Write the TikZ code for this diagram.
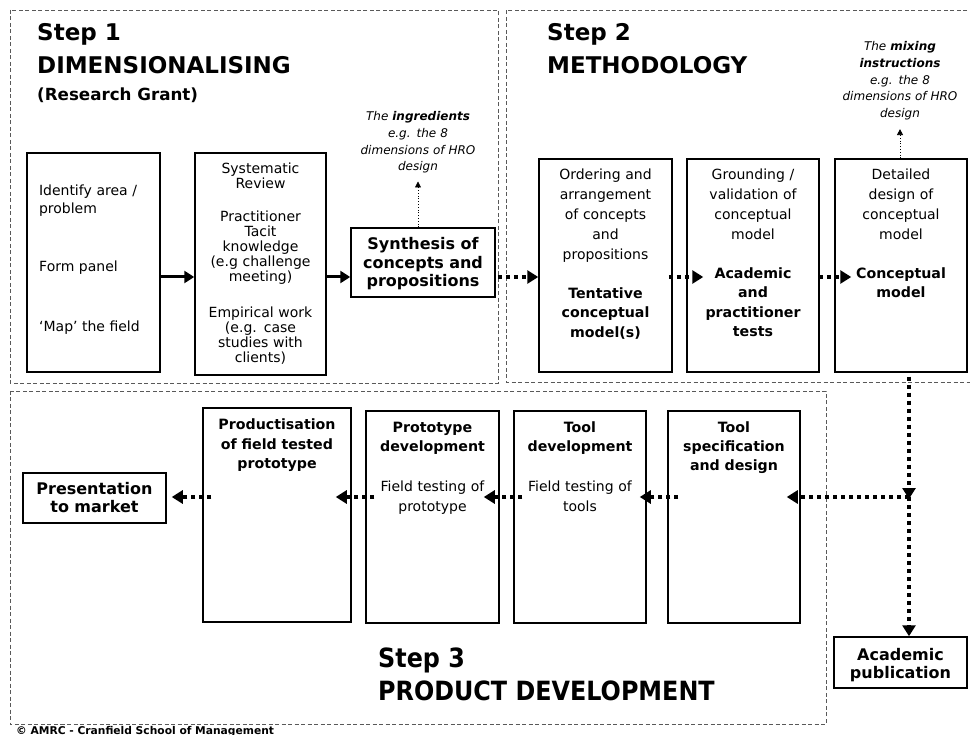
\documentclass[tikz,border=0pt]{standalone}
\usepackage{fontspec}
\setmainfont{DejaVu Sans}
\newfontfamily\narrowfont[FakeStretch=0.9]{DejaVu Sans}
\usetikzlibrary{arrows.meta,calc,fit}
\newcommand\fsz[2]{\fontsize{#1pt}{#2pt}\selectfont}

\begin{document}
\begin{tikzpicture}[x=1pt,y=-1pt,
  frame/.style={draw=black!65, line width=0.9pt, dash pattern=on 4pt off 2.5pt},
  box/.style={draw=black, line width=1.5pt, inner sep=0pt},
  txt/.style={inner sep=0pt, align=center, anchor=base, text width=140pt},
  body/.style={txt, font=\fsz{14}{15}},
  bodywide/.style={txt, font=\fsz{14}{20}},
  boldtxt/.style={txt, font=\bfseries\fsz{14.2}{19.5}},
  bigbold/.style={txt, font=\bfseries\fsz{16}{18.5}},
  note/.style={txt, font=\itshape\fsz{12}{16.6}},
  title/.style={inner sep=0pt, anchor=base west},
  solidflow/.style={line width=3pt, -{Triangle[length=10pt,width=12pt]}},
  dotflow/.style={line width=4pt, dash pattern=on 4pt off 4pt, -{Triangle[length=11pt,width=13pt]}},
  thinflow/.style={line width=0.8pt, dotted, -{Triangle[length=6pt,width=6pt]}}
]
\useasboundingbox (0,0) rectangle (970,735);
\fill[white] (0,0) rectangle (970,735);

% ---- dashed frames of the three steps
\draw[frame] (10,10) rectangle (498,383);
\draw[frame] (980,10) -- (506,10) -- (506,382) -- (980,382);
\draw[frame] (10,391) rectangle (826,724);

% ---- step titles
\node[title, font=\bfseries\fsz{23}{28}] (s1a) at (37,41) {Step 1};
\node[title, font=\bfseries\fsz{23}{28}] (s1b) at (37,74) {DIMENSIONALISING};
\node[title, font=\bfseries\fsz{16.7}{20}] (s1c) at (37,101) {(Research Grant)};
\node[title, font=\bfseries\fsz{23}{28}] (s2a) at (547,41) {Step 2};
\node[title, font=\bfseries\fsz{23}{28}] (s2b) at (547,74) {METHODOLOGY};
\node[title, font=\narrowfont\bfseries\fsz{26.5}{30}] (s3a) at (378,667) {Step 3};
\node[title, font=\narrowfont\bfseries\fsz{26.5}{30}] (s3b) at (378,700) {PRODUCT DEVELOPMENT};
\node[title, font=\bfseries\fsz{10.7}{13}] (copy) at (16,734) {© AMRC - Cranfield School of Management};

% ---- step 1 boxes
\node[box, fit={(27,153) (160,372)}] (ident) {};
\node[txt, text width=120pt, align=left, font=\fsz{14}{18}] (identA) at (99,196) {Identify area /\\problem};
\node[title, font=\fsz{14}{15}] (identB) at (39,272) {Form panel};
\node[title, font=\fsz{14}{15}] (identC) at (39,332) {`Map' the field};

\node[box, fit={(195,153) (326,375)}] (review) {};
\node[body] (reviewT) at (260.5,174) {Systematic\\Review\\[18pt]Practitioner\\Tacit\\knowledge\\(e.g challenge\\meeting)\\[21pt]Empirical work\\(e.g. case\\studies with\\clients)};

\node[box, fit={(351,228) (495,297)}] (synth) {};
\node[bigbold] (synthT) at (423,250) {Synthesis of\\concepts and\\propositions};

\node[note] (ingr) at (418,121) {The \textbf{ingredients}\\e.g. the 8\\dimensions of HRO\\design};

% ---- step 2 boxes
\node[box, fit={(539,159) (672,372)}] (tent) {};
\node[bodywide] (tentA) at (605.5,179.5) {Ordering and\\arrangement\\of concepts\\and\\propositions};
\node[boldtxt] (tentB) at (605.5,298.5) {Tentative\\conceptual\\model(s)};

\node[box, fit={(687,159) (819,372)}] (test) {};
\node[bodywide] (testA) at (753,179.5) {Grounding /\\validation of\\conceptual\\model};
\node[boldtxt] (testB) at (753,278.5) {Academic\\and\\practitioner\\tests};

\node[box, fit={(835,159) (967,372)}] (conc) {};
\node[bodywide] (concA) at (901,179.5) {Detailed\\design of\\conceptual\\model};
\node[boldtxt] (concB) at (901,278.5) {Conceptual\\model};

\node[note] (mix) at (900,51) {The \textbf{mixing}\\\textbf{instructions}\\e.g. the 8\\dimensions of HRO\\design};

% ---- step 3 boxes
\node[box, fit={(23,473) (166,523)}] (pres) {};
\node[bigbold] (presT) at (94.5,494) {Presentation\\to market};

\node[box, fit={(203,408) (351,622)}] (prod) {};
\node[boldtxt] (prodT) at (277,430) {Productisation\\of field tested\\prototype};

\node[box, fit={(366,411) (499,623)}] (proto) {};
\node[boldtxt] (protoA) at (432.5,432) {Prototype\\development};
\node[body, font=\fsz{14}{20}] (protoB) at (432.5,491.5) {Field testing of\\prototype};

\node[box, fit={(514,411) (646,623)}] (tool) {};
\node[boldtxt] (toolA) at (580,432) {Tool\\development};
\node[body, font=\fsz{14}{20}] (toolB) at (580,491.5) {Field testing of\\tools};

\node[box, fit={(668,411) (800,623)}] (spec) {};
\node[boldtxt] (specT) at (734,432) {Tool\\specification\\and design};

\node[box, fit={(834,637) (967,688)}] (pub) {};
\node[bigbold] (pubT) at (900.5,660) {Academic\\publication};

% ---- connectors
\coordinate (row1) at (0,277);
\coordinate (row2) at (0,497);
\coordinate (junction) at (909,497);

\draw[solidflow] (ident.east |- row1) -- (review.west |- row1);
\draw[solidflow] (review.east |- row1) -- (synth.west |- row1);
\draw[thinflow] (ingr.south |- synth.north) -- ($(ingr.south)+(0,8)$);
\draw[thinflow] (mix.south |- conc.north) -- ($(mix.south)+(0,9)$);

\draw[dotflow] ($(synth.east |- row1)+(2,0)$) -- (tent.west |- row1);
\draw[dotflow] ($(tent.east |- row1)+(-4,0)$) -- ($(test.west |- row1)+(17,0)$);
\draw[dotflow] ($(test.east |- row1)+(-1,0)$) -- ($(conc.west |- row1)+(17,0)$);

\draw[dotflow] ($(conc.south -| junction)+(0,4)$) -- ($(junction)+(0,2)$);
\draw[dotflow] (junction) -- (pub.north -| junction);
\draw[dotflow] (junction) -- ($(spec.east |- row2)+(-14,0)$);
\draw[dotflow] ($(spec.west |- row2)+(11,0)$) -- ($(tool.east |- row2)+(-7,0)$);
\draw[dotflow] ($(tool.west |- row2)+(9,0)$) -- ($(proto.east |- row2)+(-16,0)$);
\draw[dotflow] ($(proto.west |- row2)+(9,0)$) -- ($(prod.east |- row2)+(-16,0)$);
\draw[dotflow] ($(prod.west |- row2)+(9,0)$) -- ($(pres.east |- row2)+(5,0)$);
\end{tikzpicture}
\end{document}
